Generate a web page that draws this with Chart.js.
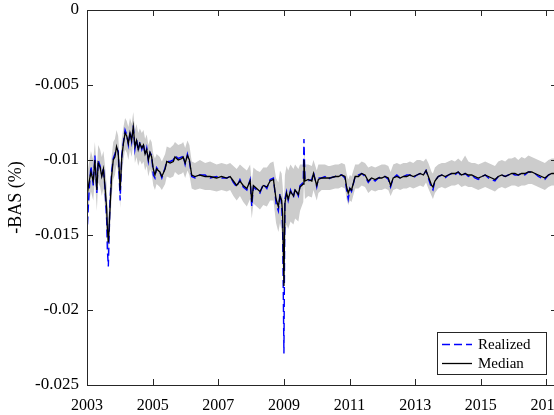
<!DOCTYPE html>
<html>
<head>
<meta charset="utf-8">
<script src="https://cdn.jsdelivr.net/npm/chart.js@4/dist/chart.umd.min.js"></script>
<style>
  html, body { margin: 0; padding: 0; background: #fff; overflow: hidden; }
  #wrap { width: 575px; height: 415px; }
</style>
</head>
<body>
<div id="wrap"><canvas id="c" width="575" height="415"></canvas></div>
<script>
// Time axis (decimal years)
const years = [
  2003.015, 2003.06, 2003.12, 2003.19, 2003.24, 2003.30, 2003.34, 2003.40, 2003.45, 2003.50,
  2003.55, 2003.60, 2003.62, 2003.65, 2003.70, 2003.75, 2003.80, 2003.85, 2003.90, 2003.95,
  2003.99, 2004.01, 2004.06, 2004.11, 2004.16, 2004.21, 2004.26, 2004.31, 2004.36, 2004.41,
  2004.46, 2004.51, 2004.56, 2004.61, 2004.67, 2004.72, 2004.77, 2004.82, 2004.87, 2004.92,
  2004.97, 2005.02, 2005.07, 2005.12, 2005.22, 2005.28, 2005.38, 2005.43, 2005.53, 2005.63,
  2005.68, 2005.78, 2005.89, 2005.93, 2005.99, 2006.06, 2006.12, 2006.19, 2006.29, 2006.44,
  2006.60, 2006.75, 2006.95, 2007.10, 2007.26, 2007.36, 2007.46, 2007.56, 2007.66, 2007.76,
  2007.87, 2007.97, 2008.02, 2008.07, 2008.17, 2008.27, 2008.37, 2008.48, 2008.58, 2008.68,
  2008.76, 2008.83, 2008.88, 2008.93, 2008.96, 2009.00, 2009.03, 2009.08, 2009.13, 2009.20,
  2009.29, 2009.34, 2009.44, 2009.49, 2009.54, 2009.59, 2009.61, 2009.64, 2009.74, 2009.85,
  2009.90, 2010.00, 2010.05, 2010.15, 2010.25, 2010.35, 2010.40, 2010.56, 2010.66, 2010.76,
  2010.86, 2010.91, 2010.96, 2011.01, 2011.06, 2011.17, 2011.27, 2011.37, 2011.47, 2011.57,
  2011.67, 2011.78, 2011.88, 2011.98, 2012.08, 2012.18, 2012.25, 2012.33, 2012.44, 2012.54,
  2012.64, 2012.74, 2012.84, 2012.94, 2013.05, 2013.15, 2013.25, 2013.33, 2013.40, 2013.50,
  2013.54, 2013.60, 2013.70, 2013.81, 2013.91, 2014.01, 2014.11, 2014.21, 2014.31, 2014.41,
  2014.52, 2014.62, 2014.72, 2014.82, 2014.92, 2015.03, 2015.13, 2015.23, 2015.33, 2015.43,
  2015.53, 2015.64, 2015.74, 2015.84, 2015.94, 2016.04, 2016.14, 2016.24, 2016.34, 2016.45,
  2016.55, 2016.65, 2016.75, 2016.85, 2016.95, 2017.06, 2017.16, 2017.26
];

// Median of the model-implied -BAS (%)
const median = [
  -0.0122, -0.0115, -0.0108, -0.0114, -0.0100, -0.0120, -0.0102, -0.0105, -0.0111, -0.0106,
  -0.0118, -0.0133, -0.0145, -0.0155, -0.0133, -0.0111, -0.0100, -0.0098, -0.0091, -0.0095,
  -0.0110, -0.0120, -0.0098, -0.0089, -0.0082, -0.0084, -0.0089, -0.0082, -0.0087, -0.0078,
  -0.0091, -0.0087, -0.0093, -0.0089, -0.0092, -0.0090, -0.0096, -0.0093, -0.0100, -0.0095,
  -0.0098, -0.0106, -0.0110, -0.0106, -0.0108, -0.0111, -0.0106, -0.0101, -0.0102, -0.0101,
  -0.0098, -0.0100, -0.0099, -0.0098, -0.0102, -0.0097, -0.0100, -0.0110, -0.0111, -0.0110,
  -0.0111, -0.0111, -0.0112, -0.0111, -0.0112, -0.0111, -0.0114, -0.0117, -0.0114, -0.0117,
  -0.0119, -0.0114, -0.0128, -0.0117, -0.0119, -0.0121, -0.0117, -0.0118, -0.0114, -0.0113,
  -0.0126, -0.0131, -0.0124, -0.0127, -0.0136, -0.0184, -0.0129, -0.0122, -0.0126, -0.0121,
  -0.0124, -0.0120, -0.0123, -0.0118, -0.0117, -0.0116, -0.0100, -0.0114, -0.0113, -0.0114,
  -0.0109, -0.0117, -0.0113, -0.0112, -0.0112, -0.0112, -0.0112, -0.0111, -0.0111, -0.0110,
  -0.0111, -0.0118, -0.0122, -0.0119, -0.0120, -0.0111, -0.0111, -0.0109, -0.0110, -0.0114,
  -0.0112, -0.0113, -0.0112, -0.0112, -0.0111, -0.0112, -0.0117, -0.0112, -0.0111, -0.0112,
  -0.0111, -0.0111, -0.0110, -0.0111, -0.0110, -0.0109, -0.0110, -0.0107, -0.0111, -0.0117,
  -0.0118, -0.0114, -0.0111, -0.0110, -0.0111, -0.0110, -0.0109, -0.0109, -0.0108, -0.0110,
  -0.0109, -0.0110, -0.0110, -0.0111, -0.0112, -0.0111, -0.0110, -0.0111, -0.0112, -0.0113,
  -0.0111, -0.0110, -0.0111, -0.0110, -0.0109, -0.0109, -0.0110, -0.0109, -0.0109, -0.0108,
  -0.0108, -0.0109, -0.0110, -0.0111, -0.0112, -0.0110, -0.0109, -0.0109
];

// Realized -BAS (%)
const realized = [
  -0.0143, -0.0122, -0.0104, -0.0117, -0.0097, -0.0122, -0.0100, -0.0104, -0.0110, -0.0105,
  -0.0120, -0.0140, -0.0160, -0.0171, -0.0128, -0.0108, -0.0099, -0.0096, -0.0092, -0.0094,
  -0.0116, -0.0127, -0.0097, -0.0088, -0.0080, -0.0083, -0.0090, -0.0081, -0.0088, -0.0077,
  -0.0093, -0.0086, -0.0094, -0.0088, -0.0093, -0.0089, -0.0097, -0.0092, -0.0101, -0.0095,
  -0.0097, -0.0110, -0.0112, -0.0105, -0.0108, -0.0112, -0.0105, -0.0101, -0.0101, -0.0100,
  -0.0097, -0.0099, -0.0098, -0.0097, -0.0103, -0.0096, -0.0101, -0.0111, -0.0112, -0.0110,
  -0.0110, -0.0112, -0.0111, -0.0112, -0.0112, -0.0111, -0.0115, -0.0118, -0.0113, -0.0118,
  -0.0120, -0.0113, -0.0131, -0.0118, -0.0120, -0.0122, -0.0116, -0.0119, -0.0113, -0.0112,
  -0.0129, -0.0134, -0.0122, -0.0130, -0.0145, -0.0229, -0.0126, -0.0121, -0.0127, -0.0120,
  -0.0125, -0.0119, -0.0124, -0.0117, -0.0116, -0.0115, -0.0086, -0.0113, -0.0114, -0.0113,
  -0.0108, -0.0118, -0.0112, -0.0112, -0.0111, -0.0113, -0.0112, -0.0111, -0.0110, -0.0110,
  -0.0112, -0.0120, -0.0126, -0.0119, -0.0121, -0.0111, -0.0110, -0.0109, -0.0111, -0.0115,
  -0.0112, -0.0114, -0.0112, -0.0111, -0.0111, -0.0113, -0.0118, -0.0112, -0.0110, -0.0112,
  -0.0111, -0.0110, -0.0110, -0.0112, -0.0110, -0.0109, -0.0110, -0.0107, -0.0112, -0.0119,
  -0.0120, -0.0114, -0.0111, -0.0110, -0.0112, -0.0110, -0.0109, -0.0110, -0.0108, -0.0111,
  -0.0109, -0.0111, -0.0110, -0.0112, -0.0113, -0.0111, -0.0110, -0.0112, -0.0113, -0.0114,
  -0.0111, -0.0110, -0.0111, -0.0110, -0.0109, -0.0110, -0.0110, -0.0109, -0.0110, -0.0108,
  -0.0108, -0.0109, -0.0111, -0.0112, -0.0113, -0.0110, -0.0109, -0.0109
];

// Lower edge of the grey predictive band
const bandLow = [
  -0.0136, -0.0129, -0.0121, -0.0127, -0.0113, -0.0134, -0.0115, -0.0118, -0.0124, -0.0119,
  -0.0132, -0.0148, -0.0160, -0.0168, -0.0148, -0.0125, -0.0113, -0.0110, -0.0103, -0.0107,
  -0.0123, -0.0132, -0.0110, -0.0100, -0.0093, -0.0095, -0.0100, -0.0093, -0.0098, -0.0089,
  -0.0102, -0.0098, -0.0104, -0.0100, -0.0103, -0.0101, -0.0107, -0.0104, -0.0111, -0.0106,
  -0.0109, -0.0117, -0.0120, -0.0116, -0.0118, -0.0120, -0.0116, -0.0111, -0.0112, -0.0111,
  -0.0108, -0.0110, -0.0109, -0.0108, -0.0112, -0.0107, -0.0110, -0.0119, -0.0120, -0.0119,
  -0.0120, -0.0120, -0.0121, -0.0120, -0.0121, -0.0120, -0.0124, -0.0127, -0.0124, -0.0128,
  -0.0131, -0.0126, -0.0139, -0.0129, -0.0131, -0.0133, -0.0130, -0.0131, -0.0127, -0.0127,
  -0.0142, -0.0148, -0.0142, -0.0147, -0.0156, -0.0165, -0.0151, -0.0143, -0.0146, -0.0141,
  -0.0143, -0.0139, -0.0141, -0.0134, -0.0131, -0.0128, -0.0114, -0.0126, -0.0124, -0.0125,
  -0.0120, -0.0127, -0.0122, -0.0120, -0.0120, -0.0120, -0.0120, -0.0119, -0.0119, -0.0118,
  -0.0119, -0.0126, -0.0130, -0.0127, -0.0128, -0.0119, -0.0119, -0.0117, -0.0118, -0.0122,
  -0.0120, -0.0121, -0.0120, -0.0120, -0.0119, -0.0120, -0.0124, -0.0120, -0.0119, -0.0120,
  -0.0119, -0.0119, -0.0118, -0.0119, -0.0118, -0.0117, -0.0118, -0.0115, -0.0119, -0.0124,
  -0.0126, -0.0122, -0.0119, -0.0118, -0.0119, -0.0118, -0.0117, -0.0117, -0.0116, -0.0118,
  -0.0117, -0.0118, -0.0118, -0.0119, -0.0120, -0.0119, -0.0118, -0.0119, -0.0120, -0.0121,
  -0.0119, -0.0118, -0.0119, -0.0118, -0.0117, -0.0117, -0.0118, -0.0117, -0.0117, -0.0116,
  -0.0116, -0.0117, -0.0118, -0.0119, -0.0120, -0.0118, -0.0117, -0.0117
];

// Upper edge of the grey predictive band
const bandHigh = [
  -0.0108, -0.0102, -0.0094, -0.0100, -0.0088, -0.0106, -0.0090, -0.0093, -0.0098, -0.0094,
  -0.0104, -0.0117, -0.0128, -0.0138, -0.0117, -0.0098, -0.0088, -0.0086, -0.0080, -0.0084,
  -0.0097, -0.0106, -0.0086, -0.0078, -0.0072, -0.0074, -0.0078, -0.0072, -0.0076, -0.0068,
  -0.0080, -0.0076, -0.0082, -0.0079, -0.0082, -0.0080, -0.0086, -0.0083, -0.0090, -0.0086,
  -0.0088, -0.0096, -0.0099, -0.0096, -0.0098, -0.0101, -0.0096, -0.0091, -0.0092, -0.0090,
  -0.0088, -0.0090, -0.0089, -0.0088, -0.0092, -0.0087, -0.0090, -0.0101, -0.0102, -0.0100,
  -0.0102, -0.0101, -0.0103, -0.0102, -0.0103, -0.0102, -0.0104, -0.0106, -0.0103, -0.0105,
  -0.0107, -0.0103, -0.0115, -0.0105, -0.0107, -0.0108, -0.0105, -0.0105, -0.0102, -0.0101,
  -0.0112, -0.0115, -0.0107, -0.0109, -0.0117, -0.0130, -0.0110, -0.0104, -0.0107, -0.0103,
  -0.0106, -0.0103, -0.0106, -0.0103, -0.0103, -0.0103, -0.0090, -0.0103, -0.0103, -0.0104,
  -0.0100, -0.0107, -0.0103, -0.0103, -0.0103, -0.0104, -0.0104, -0.0103, -0.0103, -0.0102,
  -0.0103, -0.0109, -0.0113, -0.0110, -0.0111, -0.0103, -0.0103, -0.0101, -0.0102, -0.0105,
  -0.0104, -0.0105, -0.0104, -0.0103, -0.0103, -0.0104, -0.0108, -0.0103, -0.0102, -0.0103,
  -0.0102, -0.0102, -0.0101, -0.0102, -0.0100, -0.0100, -0.0101, -0.0099, -0.0102, -0.0108,
  -0.0109, -0.0105, -0.0103, -0.0102, -0.0102, -0.0101, -0.0100, -0.0101, -0.0099, -0.0101,
  -0.0097, -0.0101, -0.0102, -0.0102, -0.0103, -0.0102, -0.0101, -0.0102, -0.0103, -0.0104,
  -0.0101, -0.0100, -0.0101, -0.0099, -0.0099, -0.0098, -0.0100, -0.0098, -0.0099, -0.0097,
  -0.0098, -0.0099, -0.0100, -0.0101, -0.0102, -0.0100, -0.0099, -0.0099
];

// Axis ticks
const xTicks = [2003, 2005, 2007, 2009, 2011, 2013, 2015, 2017];
const yTicks = [0, -0.005, -0.01, -0.015, -0.02, -0.025];
const seriesNames = ['Realized', 'Median'];

const FONT = 'Liberation Serif';
const INK = '#262626';

const pts = (vals) => years.map((x, i) => ({ x: x, y: vals[i] }));

// Box around the plot with inward tick marks on all four sides
const framePlugin = {
  id: 'frame',
  afterDatasetsDraw(chart) {
    const { ctx, chartArea: a, scales } = chart;
    const xs = scales.x, ys = scales.y;
    const len = 6;
    ctx.save();
    ctx.strokeStyle = INK;
    ctx.lineWidth = 1;
    ctx.beginPath();
    ctx.rect(Math.round(a.left) + 0.5, Math.round(a.top) + 0.5,
             Math.round(a.right - a.left), Math.round(a.bottom - a.top));
    xTicks.forEach(v => {
      const px = Math.round(xs.getPixelForValue(v)) + 0.5;
      ctx.moveTo(px, a.bottom); ctx.lineTo(px, a.bottom - len);
      ctx.moveTo(px, a.top); ctx.lineTo(px, a.top + len);
    });
    yTicks.forEach(v => {
      const py = Math.round(ys.getPixelForValue(v)) + 0.5;
      ctx.moveTo(a.left, py); ctx.lineTo(a.left + len, py);
      ctx.moveTo(a.right, py); ctx.lineTo(a.right - len, py);
    });
    ctx.stroke();
    ctx.restore();
  }
};

// Legend box in the lower right corner of the plot
const legendPlugin = {
  id: 'boxLegend',
  afterDraw(chart) {
    const { ctx, chartArea: a } = chart;
    const x0 = a.right - 120, y0 = a.bottom - 53, w = 109, h = 42;
    ctx.save();
    ctx.fillStyle = '#fff';
    ctx.fillRect(x0, y0, w, h);
    ctx.strokeStyle = INK;
    ctx.lineWidth = 1;
    ctx.strokeRect(x0 + 0.5, y0 + 0.5, w, h);
    const ds = chart.data.datasets;
    seriesNames.forEach((name, i) => {
      const d = ds.find(s => s.label === name);
      const cy = y0 + 12 + i * 19;
      ctx.beginPath();
      ctx.strokeStyle = d.borderColor;
      ctx.lineWidth = d.borderWidth;
      ctx.setLineDash(d.borderDash || []);
      ctx.moveTo(x0 + 5, cy + 0.5);
      ctx.lineTo(x0 + 35, cy + 0.5);
      ctx.stroke();
      ctx.setLineDash([]);
      ctx.fillStyle = '#000';
      ctx.font = '15px "' + FONT + '"';
      ctx.textBaseline = 'middle';
      ctx.textAlign = 'left';
      ctx.fillText(name, x0 + 41, cy + 1);
    });
    ctx.restore();
  }
};

new Chart(document.getElementById('c'), {
  type: 'line',
  data: {
    datasets: [
      { label: 'Median', data: pts(median), borderColor: '#000000', borderWidth: 1.3,
        pointRadius: 0, fill: false, order: 0, tension: 0 },
      { label: 'Realized', data: pts(realized), borderColor: '#0000ff', borderWidth: 1.4,
        borderDash: [8, 4], pointRadius: 0, fill: false, order: 1, tension: 0 },
      { label: 'band-high', data: pts(bandHigh), borderWidth: 0, borderColor: 'rgba(0,0,0,0)',
        backgroundColor: 'rgb(204,204,204)', pointRadius: 0, fill: '+1', order: 2, tension: 0 },
      { label: 'band-low', data: pts(bandLow), borderWidth: 0, borderColor: 'rgba(0,0,0,0)',
        pointRadius: 0, fill: false, order: 3, tension: 0 }
    ]
  },
  options: {
    responsive: false,
    animation: false,
    events: [],
    layout: { padding: { top: 10, right: 18, left: 0, bottom: 0 } },
    plugins: { legend: { display: false }, tooltip: { enabled: false } },
    scales: {
      x: {
        type: 'linear',
        min: 2003,
        max: 2017.32,
        afterBuildTicks: (s) => { s.ticks = xTicks.map(v => ({ value: v })); },
        afterFit: (s) => { s.height = 30; s.paddingLeft = 0; s.paddingRight = 0; },
        grid: { display: false, drawTicks: false },
        border: { display: false },
        ticks: {
          color: '#000',
          font: { family: FONT, size: 16 },
          padding: 11,
          maxRotation: 0,
          autoSkip: false,
          callback: (v) => String(v)
        }
      },
      y: {
        type: 'linear',
        min: -0.025,
        max: 0,
        afterBuildTicks: (s) => { s.ticks = yTicks.map(v => ({ value: v })); },
        afterFit: (s) => { s.width = 87; s.paddingTop = 0; s.paddingBottom = 0; },
        grid: { display: false, drawTicks: false },
        border: { display: false },
        title: {
          display: true,
          text: '-BAS (%)',
          color: '#000',
          font: { family: FONT, size: 18 },
          padding: { top: 5, bottom: 0 }
        },
        ticks: {
          color: '#000',
          font: { family: FONT, size: 17 },
          padding: 8,
          autoSkip: false,
          callback: (v) => String(v)
        }
      }
    }
  },
  plugins: [framePlugin, legendPlugin]
});
</script>
</body>
</html>
